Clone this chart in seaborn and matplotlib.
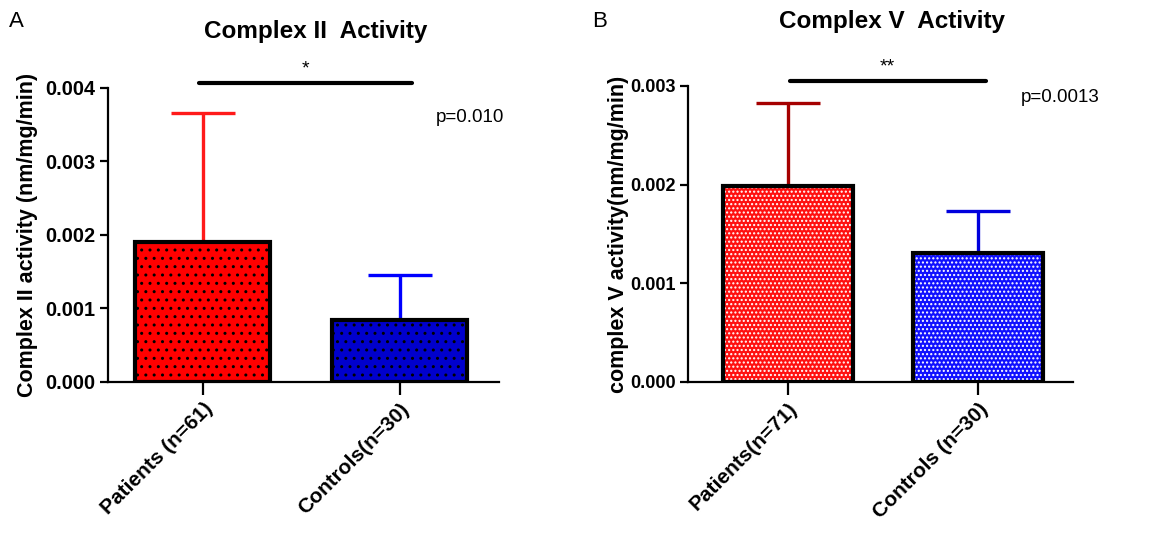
import matplotlib
matplotlib.use('Agg')
import matplotlib.pyplot as plt
import matplotlib.ticker as mticker
import numpy as np
import pandas as pd
import seaborn as sns

# values
groups_a = ['Patients (n=61)', 'Controls(n=30)']
mean_a = [0.00191, 0.00084]
sd_a = [0.00175, 0.00062]

groups_b = ['Patients(n=71)', 'Controls (n=30)']
mean_b = [0.00199, 0.00131]
sd_b = [0.00084, 0.00042]

sns.set_style('white')
plt.rcParams['font.family'] = ['Liberation Sans', 'DejaVu Sans']
plt.rcParams['hatch.linewidth'] = 1.0
for key in ['text.color', 'axes.labelcolor', 'xtick.color', 'ytick.color']:
    plt.rcParams[key] = 'black'


def draw_panel(ax, groups, means, sds, fills, err_colors, hatch, hatch_color,
               ymax, xlim, title, ylabel, stars, sig_span, p_text, p_pos,
               ytick_size, title_pad, label_pad):
    df = pd.DataFrame({'group': groups, 'mean': means})
    sns.barplot(
        data=df, x='group', y='mean', hue='group', palette=fills,
        saturation=1, errorbar=None, legend=False, width=0.685, ax=ax,
        edgecolor=hatch_color, linewidth=0, zorder=2
    )
    for p in ax.patches:
        p.set_hatch(hatch)
    # black outline on top of the hatched fill
    ax.bar(range(len(groups)), means, width=0.685, facecolor='none',
           edgecolor='black', linewidth=3, zorder=4)

    for i, (m, s, c) in enumerate(zip(means, sds, err_colors)):
        ax.errorbar(i, m, yerr=[[0], [s]], ecolor=c, elinewidth=2.4,
                    capsize=23, capthick=2.4, fmt='none', zorder=3)

    ax.set_ylim(0, ymax)
    ax.set_xlim(*xlim)
    ax.yaxis.set_major_locator(mticker.MultipleLocator(0.001))
    ax.yaxis.set_major_formatter(mticker.FormatStrFormatter('%.3f'))
    ax.set_xlabel('')
    ax.set_ylabel(ylabel, fontsize=15.5, fontweight='bold', labelpad=label_pad)
    ax.set_title(title, fontsize=17.5, fontweight='bold', pad=title_pad,
                 x=0.53)

    for side in ['top', 'right']:
        ax.spines[side].set_visible(False)
    for side in ['left', 'bottom']:
        ax.spines[side].set_linewidth(1.6)
        ax.spines[side].set_color('black')

    ax.tick_params(axis='y', length=6, width=1.6, labelsize=ytick_size,
                   left=True, pad=3)
    ax.tick_params(axis='x', length=9, width=1.6, labelsize=15, bottom=True)
    for lab in ax.get_yticklabels():
        lab.set_fontweight('bold')
    ax.set_xticks(range(len(groups)))
    ax.set_xticklabels(groups, rotation=45, ha='right', rotation_mode='anchor',
                       fontweight='bold')

    # significance bar above the plot
    y_sig = ymax * 1.016
    ax.plot(sig_span, [y_sig, y_sig], color='black', linewidth=3,
            clip_on=False, zorder=5)
    ax.annotate(stars, (np.mean(sig_span), y_sig), xytext=(0, 4),
                textcoords='offset points', ha='center', va='bottom',
                fontsize=14, annotation_clip=False)
    ax.text(p_pos[0], p_pos[1] * ymax, p_text, ha='right', va='center',
            fontsize=13.5)


fig = plt.figure(figsize=(11.56, 5.38), dpi=100)
ax_a = fig.add_axes([0.0934, 0.29, 0.3383, 0.5466])
ax_b = fig.add_axes([0.5952, 0.29, 0.333, 0.5502])

draw_panel(ax_a, groups_a, mean_a, sd_a, ['#ff0000', '#0000cc'],
           ['#ff1a1a', '#0000ff'], '..', 'black', 0.004, (-0.482, 1.503),
           'Complex II  Activity', 'Complex II activity (nm/mg/min)', '*',
           [-0.02, 1.06], 'p=0.010', (1.53, 0.898), 14.3, 36, 5)
draw_panel(ax_b, groups_b, mean_b, sd_b, ['#ff1010', '#1010ff'],
           ['#a50000', '#0000dd'], '....', 'white', 0.003, (-0.526, 1.5),
           'Complex V  Activity', 'complex V activity(nm/mg/min)', '**',
           [0.01, 1.04], 'p=0.0013', (1.64, 0.96), 13, 42, 1)

fig.text(0.008, 0.95, 'A', fontsize=16)
fig.text(0.512, 0.95, 'B', fontsize=16)

fig.savefig('out.png', dpi=100)
